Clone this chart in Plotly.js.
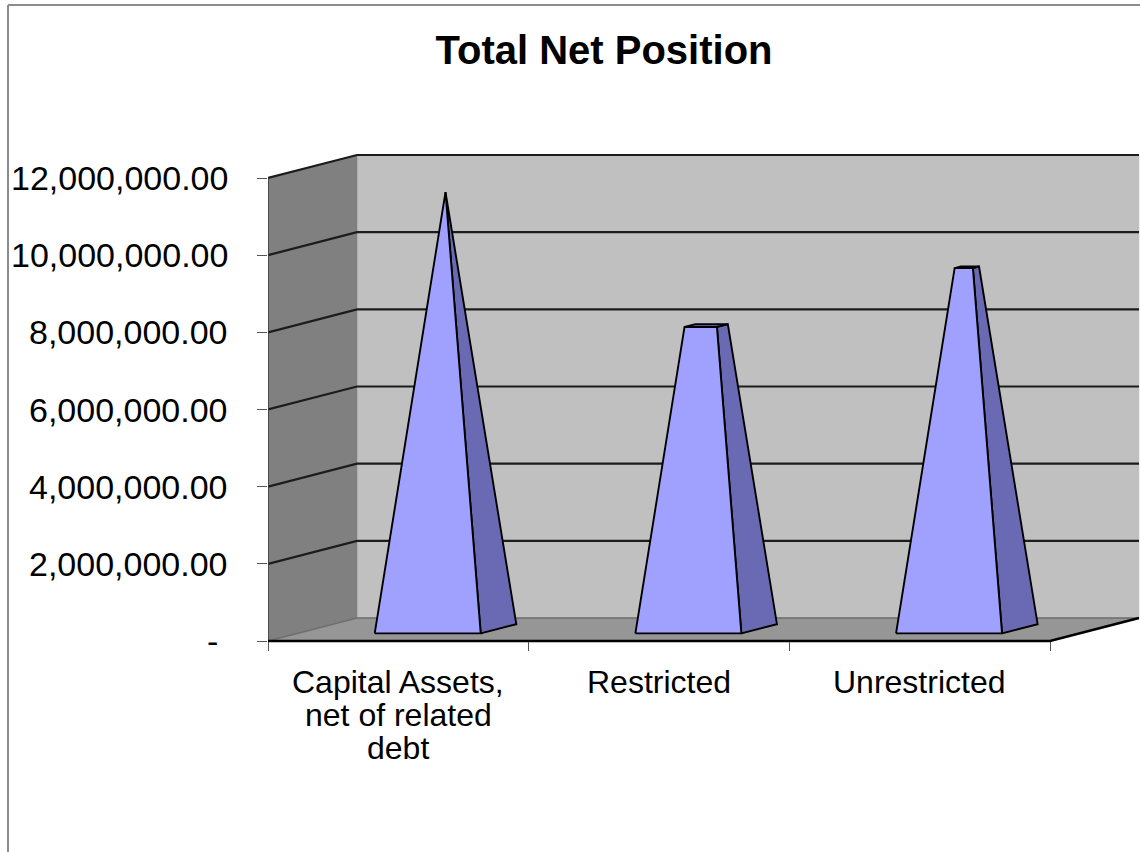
<!DOCTYPE html>
<html>
<head>
<meta charset="utf-8">
<script src="https://cdn.plot.ly/plotly-3.0.1.min.js"></script>
<style>
  html, body { margin: 0; padding: 0; background: #ffffff; overflow: hidden; }
  #chart { width: 1140px; height: 852px; }
</style>
</head>
<body>
<div id="chart"></div>
<script>
// ---- data ----
const categories = ['Capital Assets, net of related debt', 'Restricted', 'Unrestricted'];
const categoryLabelLines = [['Capital Assets,', 'net of related', 'debt'], ['Restricted'], ['Unrestricted']];
const netPosition = [11320000, 7860000, 9370000];
const yTickValues = [0, 2000000, 4000000, 6000000, 8000000, 10000000, 12000000];
const yTickLabels = ['-\u00a0', '2,000,000.00', '4,000,000.00', '6,000,000.00', '8,000,000.00', '10,000,000.00', '12,000,000.00'];
const chartTitle = 'Total Net Position';

// ---- geometry of the pseudo-3D view ----
const FONT = '"Liberation Sans", Arial, sans-serif';
const PLOT_LEFT = 268, PLOT_RIGHT = 1140, PLOT_TOP = 150, PLOT_BOTTOM = 646;
const FRONT_ZERO_PX = 641, FRONT_MAX_PX = 178;
const yMax = yTickValues[yTickValues.length - 1];
const nCat = categories.length;
const pxPerUnitX = (1050 - PLOT_LEFT) / nCat;
const valPerPx = yMax / (FRONT_ZERO_PX - FRONT_MAX_PX);
const DX = 89 / pxPerUnitX;          // depth shift in x units
const DY = 23 * valPerPx;            // depth shift in value units
const xRange = [0, (PLOT_RIGHT - PLOT_LEFT) / pxPerUnitX];
const yRange = [-(PLOT_BOTTOM - FRONT_ZERO_PX) * valPerPx, yMax + (FRONT_MAX_PX - PLOT_TOP) * valPerPx];
const plotH = PLOT_BOTTOM - PLOT_TOP, plotW = PLOT_RIGHT - PLOT_LEFT;
const pxToPaperY = py => (PLOT_BOTTOM - py) / plotH;
const pxToPaperX = px => (px - PLOT_LEFT) / plotW;

function proj(x, d, v) { return [x + d * DX, v + d * DY]; }

const traces = [];
function poly(points, fill, lineColor, lineWidth) {
  const xs = points.map(p => p[0]); const ys = points.map(p => p[1]);
  xs.push(xs[0]); ys.push(ys[0]);
  traces.push({
    type: 'scatter', mode: 'lines', x: xs, y: ys, fill: 'toself', fillcolor: fill,
    line: { color: lineColor || fill, width: lineWidth || 0.5 },
    hoverinfo: 'skip', showlegend: false
  });
}
function polyline(points, color, width) {
  traces.push({
    type: 'scatter', mode: 'lines', x: points.map(p => p[0]), y: points.map(p => p[1]),
    line: { color: color, width: width }, hoverinfo: 'skip', showlegend: false
  });
}

// walls and floor
poly([proj(0, 1, 0), proj(nCat, 1, 0), proj(nCat, 1, yMax), proj(0, 1, yMax)], '#c0c0c0');
poly([proj(0, 0, 0), proj(0, 1, 0), proj(0, 1, yMax), proj(0, 0, yMax)], '#808080');
poly([proj(0, 0, 0), proj(nCat, 0, 0), proj(nCat, 1, 0), proj(0, 1, 0)], '#969696');

// gridlines on the walls
yTickValues.forEach(t => {
  if (t === 0) {
    polyline([proj(0, 0, 0), proj(0, 1, 0), proj(nCat, 1, 0)], '#6e6e6e', 1.5);
  } else {
    polyline([proj(0, 0, t), proj(0, 1, t), proj(nCat, 1, t)], '#1c1c1c', 2.2);
  }
});
// left wall front edge
polyline([proj(0, 0, 0), proj(0, 0, yMax)], '#3a3a3a', 1.5);

// pyramids (apex at the largest value, truncated at each value)
const vmax = Math.max.apply(null, netPosition);
const halfW = 0.2033, centerD = 0.53, halfD = 0.2;
netPosition.forEach((v, i) => {
  const s = 1 - v / vmax;
  const cx = i + 0.5;
  const bfl = proj(cx - halfW, centerD - halfD, 0);
  const bfr = proj(cx + halfW, centerD - halfD, 0);
  const bbr = proj(cx + halfW, centerD + halfD, 0);
  const tfl = proj(cx - halfW * s, centerD - halfD * s, v);
  const tfr = proj(cx + halfW * s, centerD - halfD * s, v);
  const tbr = proj(cx + halfW * s, centerD + halfD * s, v);
  const tbl = proj(cx - halfW * s, centerD + halfD * s, v);
  poly([bfr, bbr, tbr, tfr], '#6a6ab4', '#000000', 1.9);
  poly([bfl, bfr, tfr, tfl], '#a0a0ff', '#000000', 1.9);
  if (s > 0.001) poly([tfl, tfr, tbr, tbl], '#56569a', '#000000', 1.9);
});

// floor front edge
polyline([proj(0, 0, 0), proj(nCat, 0, 0), proj(nCat, 1, 0)], '#000000', 2.5);

const annotations = [];
// value-axis labels
yTickValues.forEach((t, k) => {
  annotations.push({
    x: pxToPaperX(230), xref: 'paper', y: t, yref: 'y',
    text: yTickLabels[k], showarrow: false, xanchor: 'right', yanchor: 'middle',
    font: { family: FONT, size: 34, color: '#000000' }
  });
});
// category labels
const lineY0 = 682, lineGap = 33;
categoryLabelLines.forEach((lines, i) => {
  lines.forEach((txt, k) => {
    annotations.push({
      x: i + 0.5, xref: 'x', y: pxToPaperY(lineY0 + k * lineGap), yref: 'paper',
      text: txt, showarrow: false, xanchor: 'center', yanchor: 'middle',
      font: { family: FONT, size: 32, color: '#000000' }
    });
  });
});

const layout = {
  width: 1140, height: 852,
  margin: { l: PLOT_LEFT, r: 1140 - PLOT_RIGHT, t: PLOT_TOP, b: 852 - PLOT_BOTTOM, pad: 0 },
  paper_bgcolor: '#ffffff', plot_bgcolor: 'rgba(0,0,0,0)',
  title: {
    text: '<b>' + chartTitle + '</b>',
    x: 604 / 1140, xref: 'container', xanchor: 'center',
    y: 1 - 50 / 852, yref: 'container', yanchor: 'middle',
    font: { family: FONT, size: 40, color: '#000000' }
  },
  xaxis: {
    range: xRange, anchor: 'free', position: (PLOT_BOTTOM - FRONT_ZERO_PX) / plotH,
    tickmode: 'array', tickvals: [0, 1, 2, 3], showticklabels: false,
    ticks: 'outside', ticklen: 9, tickwidth: 1, tickcolor: '#555555',
    showgrid: false, zeroline: false, showline: false, fixedrange: true
  },
  yaxis: {
    range: yRange, tickmode: 'array', tickvals: yTickValues, showticklabels: false,
    ticks: 'outside', ticklen: 10, tickwidth: 1, tickcolor: '#555555',
    showgrid: false, zeroline: false, showline: false, fixedrange: true
  },
  shapes: [
    { type: 'line', xref: 'paper', yref: 'paper',
      x0: pxToPaperX(8), x1: pxToPaperX(8), y0: pxToPaperY(900), y1: pxToPaperY(5),
      line: { color: '#8c8c8c', width: 2 } },
    { type: 'line', xref: 'paper', yref: 'paper',
      x0: pxToPaperX(8), x1: pxToPaperX(1200), y0: pxToPaperY(5), y1: pxToPaperY(5),
      line: { color: '#8c8c8c', width: 2 } }
  ],
  annotations: annotations,
  showlegend: false
};

Plotly.newPlot('chart', traces, layout, { displayModeBar: false, staticPlot: true });
</script>
</body>
</html>
